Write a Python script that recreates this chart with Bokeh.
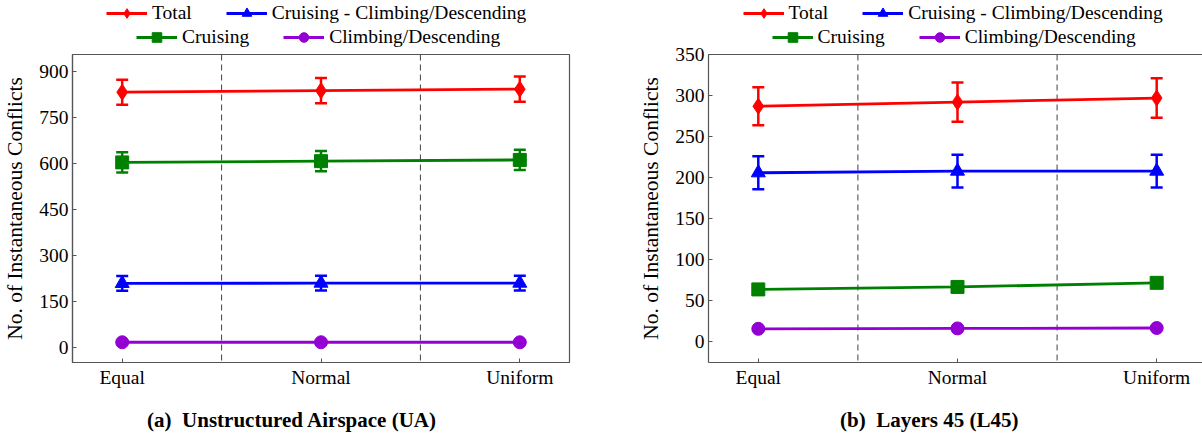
from bokeh.plotting import figure
from bokeh.models import (ColumnDataSource, Whisker, TeeHead, Span, Legend, LegendItem,
                          FixedTicker, LinearAxis, Range1d)
from bokeh.layouts import row, column
from bokeh.embed import file_html
from bokeh.resources import INLINE

# ---------------- data ----------------
categories = ["Equal", "Normal", "Uniform"]
series_names = ["Total", "Cruising - Climbing/Descending", "Cruising", "Climbing/Descending"]

# (a) Unstructured Airspace (UA)
ua_total = [832, 837, 842]
ua_total_err = [41, 41, 41]
ua_ccd = [208, 209, 209]
ua_ccd_err = [24, 24, 24]
ua_cruise = [603, 607, 611]
ua_cruise_err = [33, 33, 33]
ua_cd = [16, 16, 16]
ua_cd_err = [3, 3, 3]
ua_yticks = [0, 150, 300, 450, 600, 750, 900]

# (b) Layers 45 (L45)
l45_total = [287, 292, 297]
l45_total_err = [23, 24, 24]
l45_ccd = [206, 208, 208]
l45_ccd_err = [20, 20, 20]
l45_cruise = [64, 67, 72]
l45_cruise_err = [3, 3, 3]
l45_cd = [16, 16.5, 17]
l45_cd_err = [2, 2, 2]
l45_yticks = [0, 50, 100, 150, 200, 250, 300, 350]

y_label = "No. of Instantaneous Conflicts"
caption_a = "(a)\u00a0 Unstructured Airspace (UA)"
caption_b = "(b)\u00a0 Layers 45 (L45)"

# ---------------- style ----------------
FONT = "Liberation Serif"
COLORS = ["#ff0000", "#0000ff", "#008000", "#9400d3"]
MARKERS = ["diamond", "triangle", "square", "circle"]
SIZES = [16, 14, 13, 13]
AXIS_COLOR = "#555555"
FS = "19.5px"
LEG_H = 53      # height of legend strip above each panel
OVERLAP = 12    # panels slide up under the strip so top tick labels stay visible


def add_series(p, x, vals, c, m, s):
    src = ColumnDataSource(dict(x=x, y=vals))
    lr = p.line("x", "y", source=src, line_color=c, line_width=2.8)
    sr = p.scatter("x", "y", source=src, marker=m, size=s, fill_color=c, line_color=c)
    return lr, sr


def make_legend(values, width, frame_left, offs):
    """Legend strip: same series drawn out of view, legend rows placed in the strip."""
    x = list(range(len(categories)))
    p = figure(width=width, height=LEG_H, output_backend="svg", toolbar_location=None,
               x_axis_type=None, y_axis_type=None, min_border=0,
               x_range=Range1d(-0.25, 2.25), y_range=Range1d(5000, 5001))
    p.grid.visible = False
    p.outline_line_color = None
    p.background_fill_color = "white"
    p.border_fill_color = "white"
    items = []
    for name, vals, c, m, s in zip(series_names, values, COLORS, MARKERS, SIZES):
        lr, sr = add_series(p, x, vals, c, m, s)
        items.append(LegendItem(label=name, renderers=[lr, sr]))
    rows = [(items[:2], frame_left + offs[0], 12.7), (items[2:], frame_left + offs[1], 37.3)]
    for its, lx, cy in rows:
        lg = Legend(items=its, orientation="horizontal",
                    location=(lx, LEG_H - (cy + 12)),
                    glyph_width=41, glyph_height=24, label_height=24,
                    label_standoff=5, spacing=34, padding=0, margin=0,
                    border_line_color=None, background_fill_alpha=0,
                    label_text_font=FONT, label_text_font_size=FS,
                    label_text_color="black")
        p.add_layout(lg)
    return p


def make_panel(values, errors, yticks, yrange, caption, cap_pad, width, border_left,
               border_right, x_end, full_outline):
    x = list(range(len(categories)))
    p = figure(width=width, height=437 - LEG_H + OVERLAP, output_backend="svg",
               toolbar_location=None,
               x_range=Range1d(-0.25, x_end), y_range=Range1d(*yrange),
               min_border_left=border_left, min_border_right=border_right,
               min_border_top=OVERLAP + 1, min_border_bottom=75)
    p.margin = (-OVERLAP, 0, 0, 0)
    p.grid.visible = False
    p.background_fill_color = "white"
    p.border_fill_color = None
    p.outline_line_color = AXIS_COLOR if full_outline else None
    p.outline_line_width = 1.2
    if not full_outline:
        top = LinearAxis(ticker=FixedTicker(ticks=[]), axis_line_color=AXIS_COLOR,
                         axis_line_width=1.2, major_tick_out=0, major_tick_in=0,
                         minor_tick_out=0, minor_tick_in=0,
                         major_label_text_font_size="0px", major_label_standoff=0)
        p.add_layout(top, "above")

    # dashed separators between categories
    for loc in [i + 0.5 for i in x[:-1]]:
        p.add_layout(Span(location=loc, dimension="height", line_color="#404040",
                          line_dash="6 4", line_width=1, level="underlay"))

    for vals, errs, c, m, s in zip(values, errors, COLORS, MARKERS, SIZES):
        src = ColumnDataSource(dict(
            x=x,
            upper=[v + e for v, e in zip(vals, errs)],
            lower=[v - e for v, e in zip(vals, errs)]))
        w = Whisker(source=src, base="x", upper="upper", lower="lower",
                    line_color=c, line_width=2.5, level="underlay",
                    upper_head=TeeHead(size=12, line_color=c, line_width=2.5),
                    lower_head=TeeHead(size=12, line_color=c, line_width=2.5))
        p.add_layout(w)
        add_series(p, x, vals, c, m, s)

    # y axis
    ya = p.left[0]
    ya.ticker = FixedTicker(ticks=yticks)
    ya.axis_label = y_label
    ya.axis_label_text_font = FONT
    ya.axis_label_text_font_size = "21.5px"
    ya.axis_label_text_font_style = "normal"
    ya.axis_label_text_color = "black"
    ya.axis_label_standoff = 9
    ya.major_label_text_font = FONT
    ya.major_label_text_font_size = FS
    ya.major_label_text_color = "black"
    ya.major_label_standoff = 4
    ya.major_tick_in = 4
    ya.major_tick_out = 0
    ya.minor_tick_in = 0
    ya.minor_tick_out = 0
    ya.axis_line_color = AXIS_COLOR
    ya.axis_line_width = 1.2
    ya.major_tick_line_color = AXIS_COLOR

    # x axis (caption as bold axis label, nudged left with trailing no-break spaces)
    xa = p.below[0]
    xa.ticker = FixedTicker(ticks=x)
    xa.major_label_overrides = {i: c for i, c in zip(x, categories)}
    xa.major_label_text_font = FONT
    xa.major_label_text_font_size = FS
    xa.major_label_text_color = "black"
    xa.major_label_standoff = 4
    xa.major_tick_in = 4
    xa.major_tick_out = 0
    xa.minor_tick_in = 0
    xa.minor_tick_out = 0
    xa.axis_line_color = AXIS_COLOR
    xa.axis_line_width = 1.2
    xa.major_tick_line_color = AXIS_COLOR
    xa.axis_label = caption + "\u00a0" * cap_pad
    xa.axis_label_text_font = FONT
    xa.axis_label_text_font_size = "21px"
    xa.axis_label_text_font_style = "bold"
    xa.axis_label_text_color = "black"
    xa.axis_label_standoff = 17
    return p


ua_values = [ua_total, ua_ccd, ua_cruise, ua_cd]
ua_errors = [ua_total_err, ua_ccd_err, ua_cruise_err, ua_cd_err]
l45_values = [l45_total, l45_ccd, l45_cruise, l45_cd]
l45_errors = [l45_total_err, l45_ccd_err, l45_cruise_err, l45_cd_err]

leg1 = make_legend(ua_values, 600, 71, (35, 65))
leg2 = make_legend(l45_values, 602, 108, (34.5, 63.5))
p1 = make_panel(ua_values, ua_errors, ua_yticks, (-50, 955), caption_a, 11,
                600, 71, 31, 2.25, True)
p2 = make_panel(l45_values, l45_errors, l45_yticks, (-25, 350), caption_b, 10,
                602, 108, 0, 2.23, False)

layout = column(row(leg1, leg2), row(p1, p2))
open("out.html", "w").write(file_html(layout, INLINE))
